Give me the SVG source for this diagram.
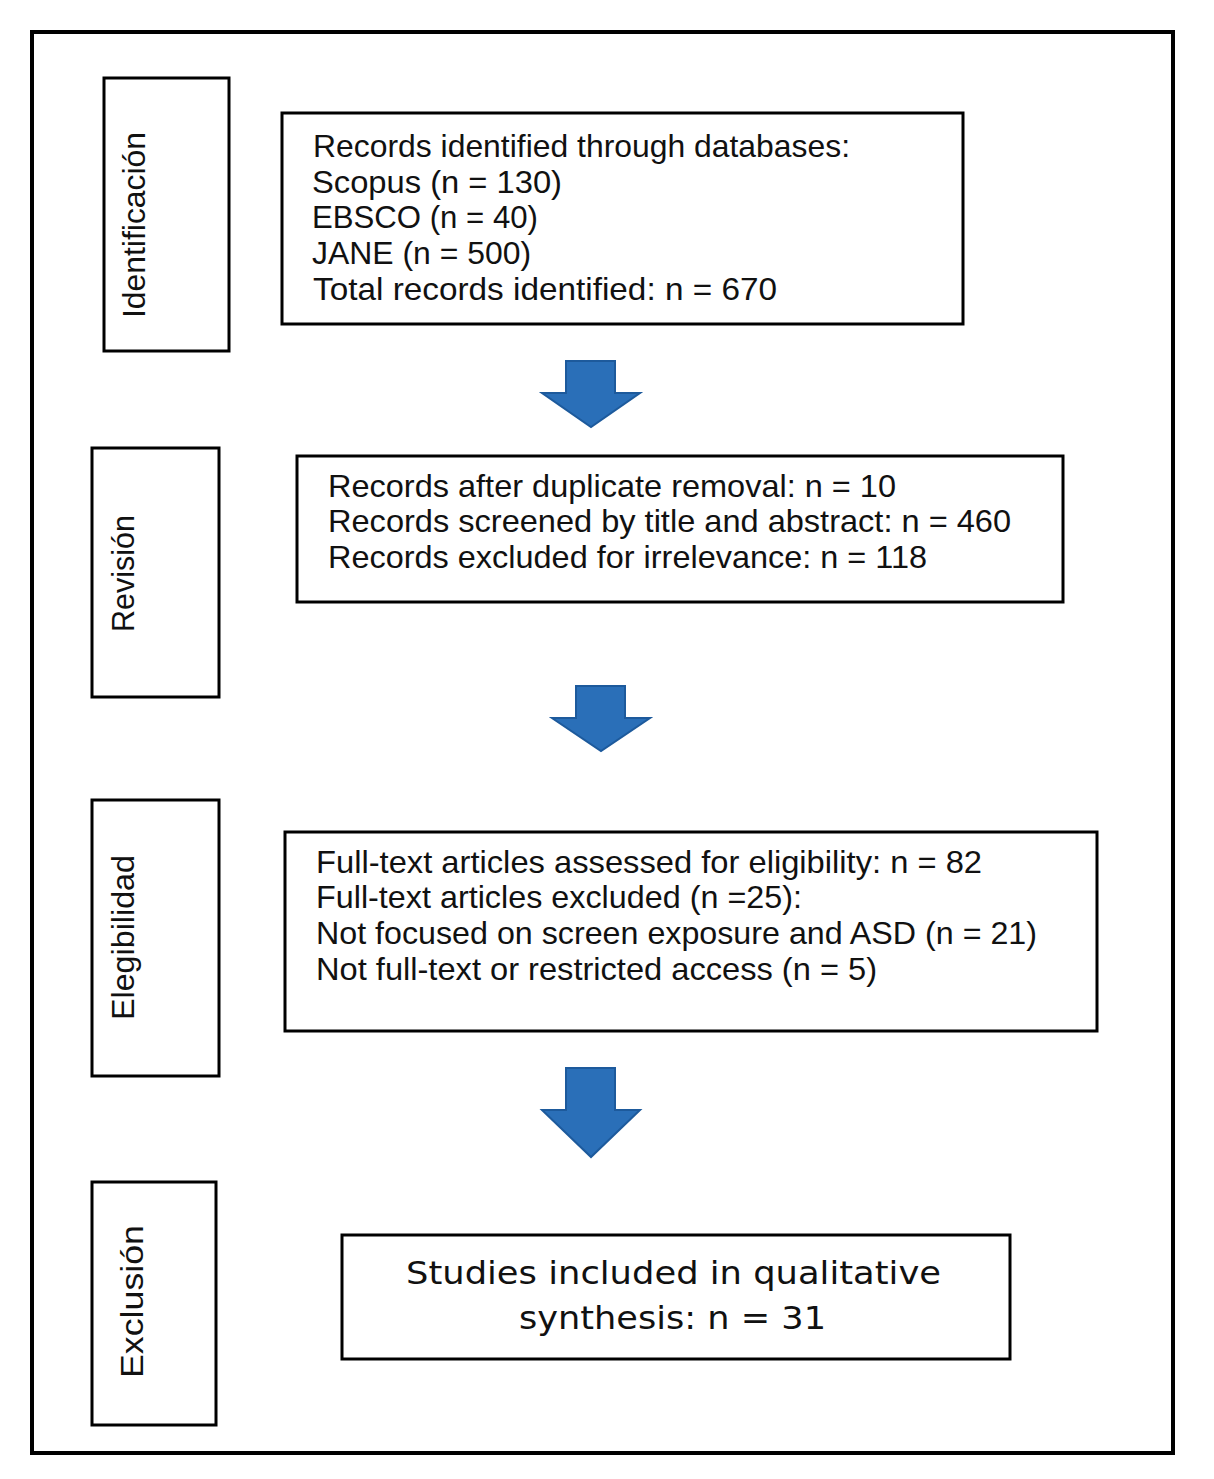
<svg xmlns="http://www.w3.org/2000/svg" width="1214" height="1479" viewBox="0 0 1214 1479">
<style>
.box{fill:#fff;stroke:#000;stroke-width:3}
.frame{fill:#fff;stroke:#000;stroke-width:4}
.t{font-family:"Liberation Sans",Arial,sans-serif;font-size:32px;fill:#111}
.t2{font-family:"DejaVu Sans","Liberation Sans",sans-serif;font-size:32px;fill:#111}
.lab{font-family:"Liberation Sans",Arial,sans-serif;font-size:31px;fill:#111}
.arr{fill:#2a6fb8;stroke:#1d5a9c;stroke-width:2}
</style>
<rect class="frame" x="32" y="32" width="1141" height="1421"/>
<g id="stage-identificacion">
<rect class="box" x="104" y="78" width="125" height="273"/>
<text class="lab" transform="translate(145,318) rotate(-90)" textLength="186" lengthAdjust="spacingAndGlyphs">Identificación</text>
</g>
<g id="stage-revision">
<rect class="box" x="92" y="448" width="127" height="249"/>
<text class="lab" transform="translate(134,632) rotate(-90)" textLength="117" lengthAdjust="spacingAndGlyphs">Revisión</text>
</g>
<g id="stage-elegibilidad">
<rect class="box" x="92" y="800" width="127" height="276"/>
<text class="lab" transform="translate(134,1020) rotate(-90)" textLength="165" lengthAdjust="spacingAndGlyphs">Elegibilidad</text>
</g>
<g id="stage-exclusion">
<rect class="box" x="92" y="1182" width="124" height="243"/>
<text class="lab" transform="translate(143,1378) rotate(-90)" textLength="153" lengthAdjust="spacingAndGlyphs">Exclusión</text>
</g>
<g id="box-identified">
<rect class="box" x="282" y="113" width="681" height="211"/>
<text class="t" x="313" y="157" textLength="537" lengthAdjust="spacingAndGlyphs">Records identified through databases:</text>
<text class="t" x="312" y="193" textLength="250" lengthAdjust="spacingAndGlyphs">Scopus (n = 130)</text>
<text class="t" x="312" y="228" textLength="226" lengthAdjust="spacingAndGlyphs">EBSCO (n = 40)</text>
<text class="t" x="312" y="264" textLength="219" lengthAdjust="spacingAndGlyphs">JANE (n = 500)</text>
<text class="t" x="313" y="300" textLength="464" lengthAdjust="spacingAndGlyphs">Total records identified: n = 670</text>
</g>
<g id="box-screening">
<rect class="box" x="297" y="456" width="766" height="146"/>
<text class="t" x="328" y="497" textLength="568" lengthAdjust="spacingAndGlyphs">Records after duplicate removal: n = 10</text>
<text class="t" x="328" y="532" textLength="683" lengthAdjust="spacingAndGlyphs">Records screened by title and abstract: n = 460</text>
<text class="t" x="328" y="568" textLength="599" lengthAdjust="spacingAndGlyphs">Records excluded for irrelevance: n = 118</text>
</g>
<g id="box-eligibility">
<rect class="box" x="285" y="832" width="812" height="199"/>
<text class="t" x="316" y="873" textLength="666" lengthAdjust="spacingAndGlyphs">Full-text articles assessed for eligibility: n = 82</text>
<text class="t" x="316" y="908" textLength="486" lengthAdjust="spacingAndGlyphs">Full-text articles excluded (n =25):</text>
<text class="t" x="316" y="944" textLength="721" lengthAdjust="spacingAndGlyphs">Not focused on screen exposure and ASD (n = 21)</text>
<text class="t" x="316" y="980" textLength="561" lengthAdjust="spacingAndGlyphs">Not full-text or restricted access (n = 5)</text>
</g>
<g id="box-included">
<rect class="box" x="342" y="1235" width="668" height="124"/>
<text class="t2" x="406" y="1284" textLength="535" lengthAdjust="spacingAndGlyphs">Studies included in qualitative</text>
<text class="t2" x="519" y="1329" textLength="307" lengthAdjust="spacingAndGlyphs">synthesis: n = 31</text>
</g>
<g id="connectors">
<path class="arr" d="M566,361 H615 V393 H640 L591,427 L542,393 H566 Z"/>
<path class="arr" d="M576,686 H625 V718 H650 L601,751 L552,718 H576 Z"/>
<path class="arr" d="M566,1068 H615 V1110 H640 L591,1157 L542,1110 H566 Z"/>
</g>
</svg>
